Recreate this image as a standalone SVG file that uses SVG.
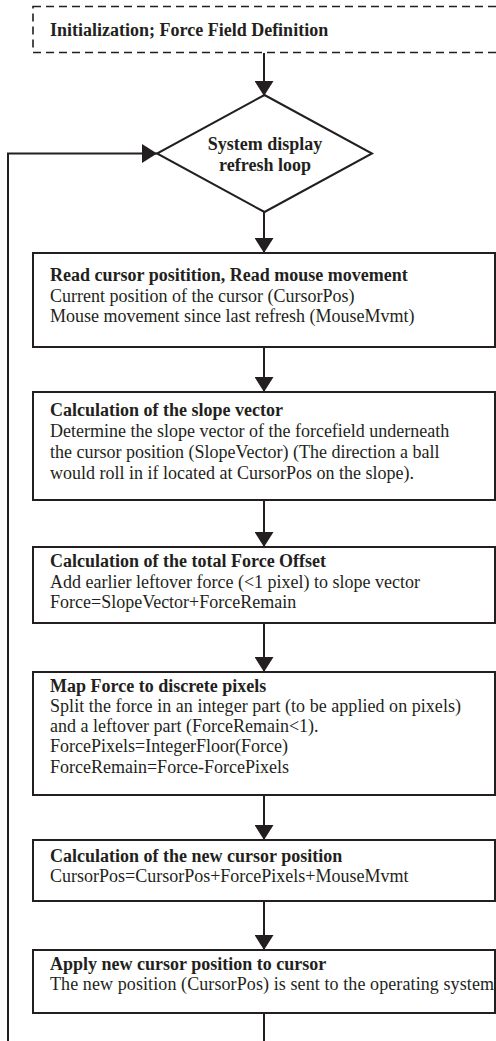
<svg xmlns="http://www.w3.org/2000/svg" width="496" height="1041" viewBox="0 0 496 1041">
<style>
  .box { fill: #ffffff; stroke: #231f20; stroke-width: 2; }
  .dash { fill: #ffffff; stroke: #231f20; stroke-width: 1.6; stroke-dasharray: 8 5; }
  .conn { fill: none; stroke: #231f20; stroke-width: 2; }
  text { font-family: "Liberation Serif", "Times New Roman", serif; font-size: 18px; fill: #231f20; }
  .b { font-weight: bold; }
  .c { text-anchor: middle; }
</style>
<defs>
  <marker id="arr" viewBox="0 0 15 19" refX="15" refY="9.5" markerWidth="15" markerHeight="19" markerUnits="userSpaceOnUse" orient="auto">
    <path d="M0,0 L15,9.5 L0,19 z" fill="#231f20"/>
  </marker>
</defs>
<rect width="496" height="1041" fill="#ffffff"/>

<g id="connectors">
  <line class="conn" x1="264" y1="53" x2="264" y2="96" marker-end="url(#arr)"/>
  <line class="conn" x1="264" y1="212" x2="264" y2="253" marker-end="url(#arr)"/>
  <line class="conn" x1="264" y1="347" x2="264" y2="392" marker-end="url(#arr)"/>
  <line class="conn" x1="264" y1="500" x2="264" y2="547" marker-end="url(#arr)"/>
  <line class="conn" x1="264" y1="623" x2="264" y2="672" marker-end="url(#arr)"/>
  <line class="conn" x1="264" y1="795" x2="264" y2="840" marker-end="url(#arr)"/>
  <line class="conn" x1="264" y1="901" x2="264" y2="950" marker-end="url(#arr)"/>
  <line class="conn" x1="264" y1="1013" x2="264" y2="1041"/>
  <polyline class="conn" points="8,1041 8,153.5 157,153.5" marker-end="url(#arr)"/>
</g>

<g id="init">
  <rect class="dash" x="33" y="6.5" width="475" height="46"/>
  <text class="b" x="50" y="36">Initialization; Force Field Definition</text>
</g>

<g id="loop">
  <polygon class="box" points="264.5,95 372,153.5 264.5,212 157,153.5"/>
  <text class="b c" x="265" y="150">System display</text>
  <text class="b c" x="265" y="171">refresh loop</text>
</g>

<g id="read">
  <rect class="box" x="33" y="253" width="462" height="94"/>
  <text class="b" x="50" y="281">Read cursor positition, Read mouse movement</text>
  <text x="50" y="302">Current position of the cursor (CursorPos)</text>
  <text x="50" y="322">Mouse movement since last refresh (MouseMvmt)</text>
</g>

<g id="slope">
  <rect class="box" x="33" y="392" width="462" height="108"/>
  <text class="b" x="50" y="416">Calculation of the slope vector</text>
  <text x="50" y="437">Determine the slope vector of the forcefield underneath</text>
  <text x="50" y="458">the cursor position (SlopeVector) (The direction a ball</text>
  <text x="50" y="479">would roll in if located at CursorPos on the slope).</text>
</g>

<g id="offset">
  <rect class="box" x="33" y="547" width="462" height="76"/>
  <text class="b" x="50" y="567">Calculation of the total Force Offset</text>
  <text x="50" y="588">Add earlier leftover force (&lt;1 pixel) to slope vector</text>
  <text x="50" y="608">Force=SlopeVector+ForceRemain</text>
</g>

<g id="map">
  <rect class="box" x="33" y="672" width="462" height="123"/>
  <text class="b" x="50" y="692">Map Force to discrete pixels</text>
  <text x="50" y="712" textLength="411" lengthAdjust="spacing">Split the force in an integer part (to be applied on pixels)</text>
  <text x="50" y="732">and a leftover part (ForceRemain&lt;1).</text>
  <text x="50" y="752">ForcePixels=IntegerFloor(Force)</text>
  <text x="50" y="773">ForceRemain=Force-ForcePixels</text>
</g>

<g id="newpos">
  <rect class="box" x="33" y="840" width="462" height="61"/>
  <text class="b" x="50" y="862">Calculation of the new cursor position</text>
  <text x="50" y="882">CursorPos=CursorPos+ForcePixels+MouseMvmt</text>
</g>

<g id="apply">
  <rect class="box" x="33" y="950" width="462" height="63"/>
  <text class="b" x="50" y="970">Apply new cursor position to cursor</text>
  <text x="50" y="990" textLength="444" lengthAdjust="spacing">The new position (CursorPos) is sent to the operating system</text>
</g>
</svg>
